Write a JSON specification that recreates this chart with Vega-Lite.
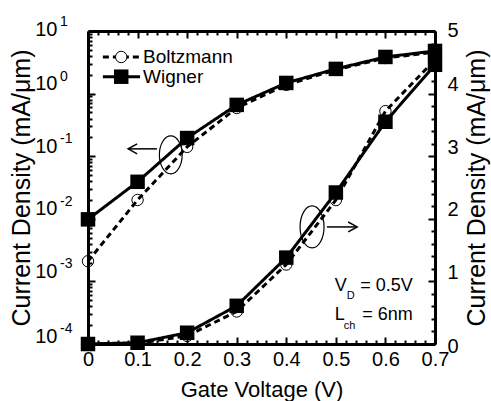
{
  "$schema": "https://vega.github.io/schema/vega-lite/v6.json",
  "width": 347,
  "height": 313,
  "autosize": {"type": "none"},
  "padding": {"left": 88, "top": 31, "right": 56, "bottom": 57},
  "background": "white",
  "config": {
    "view": {"stroke": null},
    "font": "Liberation Sans",
    "axis": {
      "labelFont": "Liberation Sans",
      "labelFontSize": 20,
      "labelColor": "black",
      "titleFont": "Liberation Sans",
      "titleFontSize": 22,
      "titleFontWeight": "normal",
      "titleColor": "black",
      "domainColor": "black",
      "domainWidth": 3,
      "tickColor": "black",
      "tickWidth": 2,
      "grid": false,
      "labelFlush": false,
      "labelOverlap": false
    }
  },
  "datasets": {
    "logJ": [
      {"V": 0.0, "model": "Boltzmann", "J": 0.0021},
      {"V": 0.1, "model": "Boltzmann", "J": 0.020},
      {"V": 0.2, "model": "Boltzmann", "J": 0.141},
      {"V": 0.3, "model": "Boltzmann", "J": 0.59},
      {"V": 0.4, "model": "Boltzmann", "J": 1.38},
      {"V": 0.5, "model": "Boltzmann", "J": 2.4},
      {"V": 0.6, "model": "Boltzmann", "J": 3.7},
      {"V": 0.7, "model": "Boltzmann", "J": 4.6},
      {"V": 0.0, "model": "Wigner", "J": 0.0098},
      {"V": 0.1, "model": "Wigner", "J": 0.039},
      {"V": 0.2, "model": "Wigner", "J": 0.195},
      {"V": 0.3, "model": "Wigner", "J": 0.66},
      {"V": 0.4, "model": "Wigner", "J": 1.48},
      {"V": 0.5, "model": "Wigner", "J": 2.48},
      {"V": 0.6, "model": "Wigner", "J": 3.85},
      {"V": 0.7, "model": "Wigner", "J": 4.8}
    ],
    "linJ": [
      {"V": 0.0, "model": "Boltzmann", "J": 0.0},
      {"V": 0.1, "model": "Boltzmann", "J": 0.01},
      {"V": 0.2, "model": "Boltzmann", "J": 0.13},
      {"V": 0.3, "model": "Boltzmann", "J": 0.52},
      {"V": 0.4, "model": "Boltzmann", "J": 1.27},
      {"V": 0.5, "model": "Boltzmann", "J": 2.30},
      {"V": 0.6, "model": "Boltzmann", "J": 3.72},
      {"V": 0.7, "model": "Boltzmann", "J": 4.54},
      {"V": 0.0, "model": "Wigner", "J": 0.0},
      {"V": 0.1, "model": "Wigner", "J": 0.02},
      {"V": 0.2, "model": "Wigner", "J": 0.18},
      {"V": 0.3, "model": "Wigner", "J": 0.61},
      {"V": 0.4, "model": "Wigner", "J": 1.38},
      {"V": 0.5, "model": "Wigner", "J": 2.42},
      {"V": 0.6, "model": "Wigner", "J": 3.55},
      {"V": 0.7, "model": "Wigner", "J": 4.46}
    ],
    "exps": [
      {"J": 10, "e": "1"},
      {"J": 1, "e": "0"},
      {"J": 0.1, "e": "-1"},
      {"J": 0.01, "e": "-2"},
      {"J": 0.001, "e": "-3"},
      {"J": 0.0001, "e": "-4"}
    ]
  },
  "layer": [
    {
      "layer": [
        {
          "data": {"name": "logJ"},
          "mark": {"type": "line", "color": "black", "strokeWidth": 3},
          "encoding": {
            "x": {"field": "V", "type": "quantitative", "scale": {"domain": [0, 0.7], "nice": false, "zero": false},
              "axis": {"orient": "bottom", "title": "Gate Voltage (V)", "values": [0, 0.1, 0.2, 0.3, 0.4, 0.5, 0.6, 0.7],
                "labelExpr": "datum.value == 0 ? '0' : format(datum.value, '.1f')", "tickSize": -7, "labelPadding": 12, "titlePadding": 10}},
            "y": {"field": "J", "type": "quantitative", "scale": {"type": "log", "domain": [0.0001, 10], "nice": false},
              "axis": {"orient": "left", "title": "Current Density (mA/\u03bcm)", "titleFontSize": 25, "values": [0.0001, 0.001, 0.01, 0.1, 1, 10],
                "labelExpr": "'10'", "tickSize": -7, "labelPadding": 38,
                "labelOffset": {"condition": [{"test": "datum.value == 10", "value": -2}, {"test": "datum.value < 0.0002", "value": -8}], "value": -10},
                "titlePadding": 0}},
            "strokeDash": {"field": "model", "type": "nominal", "scale": {"domain": ["Boltzmann", "Wigner"], "range": [[6, 4], [1, 0]]}, "legend": null}
          }
        },
        {
          "data": {"name": "logJ"},
          "transform": [{"filter": "datum.model == 'Boltzmann'"}],
          "mark": {"type": "point", "shape": "circle", "filled": false, "stroke": "black", "strokeWidth": 1, "size": 130, "opacity": 1},
          "encoding": {
            "x": {"field": "V", "type": "quantitative", "axis": null},
            "y": {"field": "J", "type": "quantitative", "axis": null}
          }
        },
        {
          "data": {"name": "logJ"},
          "transform": [{"filter": "datum.model == 'Wigner'"}],
          "mark": {"type": "point", "shape": "square", "filled": true, "color": "black", "size": 210, "opacity": 1},
          "encoding": {
            "x": {"field": "V", "type": "quantitative", "axis": null},
            "y": {"field": "J", "type": "quantitative", "axis": null}
          }
        },
        {
          "data": {"name": "logJ"},
          "mark": {"type": "point", "opacity": 0},
          "encoding": {
            "x": {"field": "V", "type": "quantitative",
              "axis": {"orient": "bottom", "title": null, "labels": false, "domain": false, "tickSize": -4,
                "values": [0.02, 0.04, 0.06, 0.08, 0.12, 0.14, 0.16, 0.18, 0.22, 0.24, 0.26, 0.28, 0.32, 0.34, 0.36, 0.38, 0.42, 0.44, 0.46, 0.48, 0.52, 0.54, 0.56, 0.58, 0.62, 0.64, 0.66, 0.68]}},
            "y": {"field": "J", "type": "quantitative",
              "axis": {"orient": "left", "title": null, "labels": false, "domain": false, "tickSize": -4,
                "values": [0.0002, 0.0003, 0.0004, 0.0005, 0.0006, 0.0007, 0.0008, 0.0009, 0.002, 0.003, 0.004, 0.005, 0.006, 0.007, 0.008, 0.009, 0.02, 0.03, 0.04, 0.05, 0.06, 0.07, 0.08, 0.09, 0.2, 0.3, 0.4, 0.5, 0.6, 0.7, 0.8, 0.9, 2, 3, 4, 5, 6, 7, 8, 9]}}
          }
        },
        {
          "data": {"name": "exps"},
          "mark": {"type": "text", "align": "left", "baseline": "alphabetic", "fontSize": 14, "dx": -28,
            "dy": {"expr": "datum.J == 10 ? -5 : datum.J < 0.0002 ? -11 : -13"}, "color": "black"},
          "encoding": {
            "x": {"datum": 0, "type": "quantitative", "axis": null},
            "y": {"field": "J", "type": "quantitative", "axis": null},
            "text": {"field": "e"}
          }
        },
        {
          "data": {"values": [{}]},
          "mark": {"type": "point", "shape": "M-0.6,0A0.6,1 0 1,1 0.6,0A0.6,1 0 1,1 -0.6,0", "filled": false, "stroke": "black", "strokeWidth": 1.2, "size": 1444, "opacity": 1},
          "encoding": {
            "x": {"datum": 0.167, "type": "quantitative", "axis": null},
            "y": {"datum": 0.105, "type": "quantitative", "axis": null}
          }
        },
        {
          "data": {"values": [{}]},
          "mark": {"type": "rule", "color": "black", "strokeWidth": 1.5},
          "encoding": {
            "x": {"datum": 0.139, "type": "quantitative", "axis": null},
            "x2": {"datum": 0.082},
            "y": {"datum": 0.131, "type": "quantitative", "axis": null}
          }
        },
        {
          "data": {"values": [{}]},
          "mark": {"type": "point", "shape": "M1,-0.55L0,0L1,0.55", "filled": false, "stroke": "black", "strokeWidth": 1.5, "size": 324, "opacity": 1},
          "encoding": {
            "x": {"datum": 0.081, "type": "quantitative", "axis": null},
            "y": {"datum": 0.131, "type": "quantitative", "axis": null}
          }
        }
      ],
      "resolve": {"axis": {"x": "independent", "y": "independent"}}
    },
    {
      "layer": [
        {
          "data": {"name": "linJ"},
          "mark": {"type": "line", "color": "black", "strokeWidth": 3},
          "encoding": {
            "x": {"field": "V", "type": "quantitative",
              "axis": {"orient": "top", "title": null, "labels": false, "values": [0, 0.1, 0.2, 0.3, 0.4, 0.5, 0.6, 0.7], "tickSize": -7}},
            "y": {"field": "J", "type": "quantitative", "scale": {"domain": [0, 5], "nice": false, "zero": false},
              "axis": {"orient": "right", "title": "Current Density (mA/\u03bcm)", "titleFontSize": 25, "titleAngle": 270, "titleBaseline": "top",
                "values": [0, 1, 2, 3, 4, 5],
                "labelOffset": {"condition": [{"test": "datum.value == 5", "value": -1}, {"test": "datum.value == 0", "value": 2}], "value": -9},
                "tickSize": -7, "labelPadding": 19, "titlePadding": 6}},
            "strokeDash": {"field": "model", "type": "nominal", "scale": {"domain": ["Boltzmann", "Wigner"], "range": [[6, 4], [1, 0]]}, "legend": null}
          }
        },
        {
          "data": {"name": "linJ"},
          "transform": [{"filter": "datum.model == 'Boltzmann'"}],
          "mark": {"type": "point", "shape": "circle", "filled": false, "stroke": "black", "strokeWidth": 1, "size": 130, "opacity": 1},
          "encoding": {
            "x": {"field": "V", "type": "quantitative", "axis": null},
            "y": {"field": "J", "type": "quantitative", "axis": null}
          }
        },
        {
          "data": {"name": "linJ"},
          "transform": [{"filter": "datum.model == 'Wigner'"}],
          "mark": {"type": "point", "shape": "square", "filled": true, "color": "black", "size": 210, "opacity": 1},
          "encoding": {
            "x": {"field": "V", "type": "quantitative", "axis": null},
            "y": {"field": "J", "type": "quantitative", "axis": null}
          }
        },
        {
          "data": {"name": "linJ"},
          "mark": {"type": "point", "opacity": 0},
          "encoding": {
            "x": {"field": "V", "type": "quantitative",
              "axis": {"orient": "top", "title": null, "labels": false, "domain": false, "tickSize": -4,
                "values": [0.02, 0.04, 0.06, 0.08, 0.12, 0.14, 0.16, 0.18, 0.22, 0.24, 0.26, 0.28, 0.32, 0.34, 0.36, 0.38, 0.42, 0.44, 0.46, 0.48, 0.52, 0.54, 0.56, 0.58, 0.62, 0.64, 0.66, 0.68]}},
            "y": {"field": "J", "type": "quantitative",
              "axis": {"orient": "right", "title": null, "labels": false, "domain": false, "tickSize": -4,
                "values": [0.2, 0.4, 0.6, 0.8, 1.2, 1.4, 1.6, 1.8, 2.2, 2.4, 2.6, 2.8, 3.2, 3.4, 3.6, 3.8, 4.2, 4.4, 4.6, 4.8]}}
          }
        },
        {
          "data": {"values": [{}]},
          "mark": {"type": "point", "shape": "M-0.57,0A0.57,1 0 1,1 0.57,0A0.57,1 0 1,1 -0.57,0", "filled": false, "stroke": "black", "strokeWidth": 1.2, "size": 1764, "opacity": 1},
          "encoding": {
            "x": {"datum": 0.452, "type": "quantitative", "axis": null},
            "y": {"datum": 1.87, "type": "quantitative", "axis": null}
          }
        },
        {
          "data": {"values": [{}]},
          "mark": {"type": "rule", "color": "black", "strokeWidth": 1.5},
          "encoding": {
            "x": {"datum": 0.482, "type": "quantitative", "axis": null},
            "x2": {"datum": 0.542},
            "y": {"datum": 1.87, "type": "quantitative", "axis": null}
          }
        },
        {
          "data": {"values": [{}]},
          "mark": {"type": "point", "shape": "M-1,-0.55L0,0L-1,0.55", "filled": false, "stroke": "black", "strokeWidth": 1.5, "size": 324, "opacity": 1},
          "encoding": {
            "x": {"datum": 0.543, "type": "quantitative", "axis": null},
            "y": {"datum": 1.87, "type": "quantitative", "axis": null}
          }
        },
        {
          "data": {"values": [{}]},
          "mark": {"type": "text", "align": "left", "baseline": "alphabetic", "fontSize": 18, "color": "black", "text": "V"},
          "encoding": {
            "x": {"datum": 0.498, "type": "quantitative", "axis": null},
            "y": {"datum": 0.853, "type": "quantitative", "axis": null}
          }
        },
        {
          "data": {"values": [{}]},
          "mark": {"type": "text", "align": "left", "baseline": "alphabetic", "fontSize": 11, "color": "black", "text": "D"},
          "encoding": {
            "x": {"datum": 0.522, "type": "quantitative", "axis": null},
            "y": {"datum": 0.726, "type": "quantitative", "axis": null}
          }
        },
        {
          "data": {"values": [{}]},
          "mark": {"type": "text", "align": "left", "baseline": "alphabetic", "fontSize": 18, "color": "black", "text": "= 0.5V"},
          "encoding": {
            "x": {"datum": 0.549, "type": "quantitative", "axis": null},
            "y": {"datum": 0.853, "type": "quantitative", "axis": null}
          }
        },
        {
          "data": {"values": [{}]},
          "mark": {"type": "text", "align": "left", "baseline": "alphabetic", "fontSize": 18, "color": "black", "text": "L"},
          "encoding": {
            "x": {"datum": 0.498, "type": "quantitative", "axis": null},
            "y": {"datum": 0.39, "type": "quantitative", "axis": null}
          }
        },
        {
          "data": {"values": [{}]},
          "mark": {"type": "text", "align": "left", "baseline": "alphabetic", "fontSize": 11, "color": "black", "text": "ch"},
          "encoding": {
            "x": {"datum": 0.516, "type": "quantitative", "axis": null},
            "y": {"datum": 0.247, "type": "quantitative", "axis": null}
          }
        },
        {
          "data": {"values": [{}]},
          "mark": {"type": "text", "align": "left", "baseline": "alphabetic", "fontSize": 18, "color": "black", "text": "= 6nm"},
          "encoding": {
            "x": {"datum": 0.553, "type": "quantitative", "axis": null},
            "y": {"datum": 0.39, "type": "quantitative", "axis": null}
          }
        },
        {
          "data": {"values": [{}]},
          "mark": {"type": "rule", "color": "black", "strokeWidth": 3, "strokeDash": [6, 4]},
          "encoding": {
            "x": {"datum": 0.030, "type": "quantitative", "axis": null},
            "x2": {"datum": 0.105},
            "y": {"datum": 4.585, "type": "quantitative", "axis": null}
          }
        },
        {
          "data": {"values": [{}]},
          "mark": {"type": "point", "shape": "circle", "filled": true, "fill": "white", "stroke": "black", "strokeWidth": 1, "size": 130, "opacity": 1},
          "encoding": {
            "x": {"datum": 0.067, "type": "quantitative", "axis": null},
            "y": {"datum": 4.585, "type": "quantitative", "axis": null}
          }
        },
        {
          "data": {"values": [{}]},
          "mark": {"type": "rule", "color": "black", "strokeWidth": 3},
          "encoding": {
            "x": {"datum": 0.030, "type": "quantitative", "axis": null},
            "x2": {"datum": 0.105},
            "y": {"datum": 4.27, "type": "quantitative", "axis": null}
          }
        },
        {
          "data": {"values": [{}]},
          "mark": {"type": "point", "shape": "square", "filled": true, "color": "black", "size": 210, "opacity": 1},
          "encoding": {
            "x": {"datum": 0.067, "type": "quantitative", "axis": null},
            "y": {"datum": 4.27, "type": "quantitative", "axis": null}
          }
        },
        {
          "data": {"values": [{}]},
          "mark": {"type": "text", "align": "left", "baseline": "middle", "fontSize": 19, "color": "black", "text": "Boltzmann"},
          "encoding": {
            "x": {"datum": 0.111, "type": "quantitative", "axis": null},
            "y": {"datum": 4.585, "type": "quantitative", "axis": null}
          }
        },
        {
          "data": {"values": [{}]},
          "mark": {"type": "text", "align": "left", "baseline": "middle", "fontSize": 19, "color": "black", "text": "Wigner"},
          "encoding": {
            "x": {"datum": 0.111, "type": "quantitative", "axis": null},
            "y": {"datum": 4.27, "type": "quantitative", "axis": null}
          }
        }
      ],
      "resolve": {"axis": {"x": "independent", "y": "independent"}}
    }
  ],
  "resolve": {"scale": {"y": "independent"}, "axis": {"x": "independent", "y": "independent"}}
}
